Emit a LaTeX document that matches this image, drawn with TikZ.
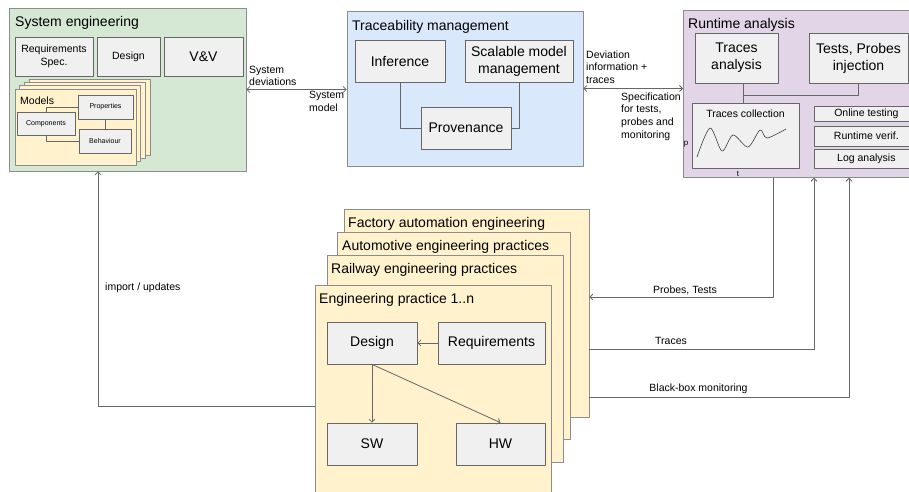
\documentclass[tikz,border=0pt]{standalone}
\usepackage{fontspec}
\setmainfont{Liberation Sans}
\usetikzlibrary{arrows.meta}
\definecolor{sysgreen}{HTML}{D5E8D4}
\definecolor{traceblue}{HTML}{DAE8FC}
\definecolor{runpurple}{HTML}{E1D5E7}
\definecolor{practyellow}{HTML}{FFF2CC}
\definecolor{boxgrey}{HTML}{F0F0F0}
\definecolor{edgegrey}{HTML}{666666}
\definecolor{framegrey}{HTML}{8C8C8C}
\newcommand\bigtxt{\fontsize{14}{16.8}\selectfont}
\newcommand\midtxt{\fontsize{10.5}{12.6}\selectfont}
\newcommand\tinytxt{\fontsize{7}{8.4}\selectfont}
\begin{document}
\begin{tikzpicture}[x=1pt, y=-1pt, font=\midtxt, line join=round, >={Straight Barb[length=3pt,width=6pt]},
 frame/.style={draw=framegrey, line width=0.7pt, inner sep=0pt},
 part/.style={frame, draw=edgegrey, fill=boxgrey, align=center},
 title/.style={anchor=west, inner sep=0pt, yshift=-2pt, font=\bigtxt},
 link/.style={draw=edgegrey, line width=0.8pt},
 lbl/.style={inner sep=0pt, align=left}]
 \path[use as bounding box, fill=white] (0,0) rectangle (909,491);

 \node[frame, fill=sysgreen, minimum width=237pt, minimum height=163pt] (syseng) at (127.5,89.5) {};
 \node[title] (sysTitle) at (15,21) {System engineering};
 \node[part, minimum width=78pt, minimum height=39pt] (sysReq) at (54,56.5) {Requirements\\Spec.};
 \node[part, minimum width=63pt, minimum height=39pt] (sysDesign) at (128.5,56.5) {Design};
 \node[part, font=\bigtxt, minimum width=79pt, minimum height=39pt] (vv) at (203.5,56.5) {V\&V};
 \foreach \i in {3,2,1}
 \node[frame, fill=practyellow, minimum width=121pt, minimum height=76pt] (layer\i) at ({75.5+4.7*\i},{127-3.3*\i}) {};
 \node[frame, fill=practyellow, minimum width=121pt, minimum height=76pt] (models) at (75.5,127) {};
 \node[title, font=\midtxt] (modelsTitle) at (20,99) {Models};
 \node[part, font=\tinytxt, minimum width=55pt, minimum height=24pt] (props) at (105.5,107) {Properties};
 \node[part, font=\tinytxt, minimum width=58pt, minimum height=23pt] (comps) at (46,123.5) {Components};
 \node[part, font=\tinytxt, minimum width=52pt, minimum height=24pt] (behav) at (105,141) {Behaviour};
 \draw[link] (comps.north) |- (props.west);
 \draw[link] (comps.south) |- (behav.west);
 \draw[link] (props.south) -- (props.south |- behav.north);

 \node[frame, fill=traceblue, minimum width=236pt, minimum height=155pt] (trace) at (465,88.5) {};
 \node[title] (traceTitle) at (352,25) {Traceability management};
 \node[part, font=\bigtxt, minimum width=90pt, minimum height=42pt] (infer) at (400,61) {Inference};
 \node[part, font=\bigtxt, minimum width=108pt, minimum height=42pt] (scalable) at (519,61) {Scalable model\\management};
 \node[part, font=\bigtxt, minimum width=90pt, minimum height=42pt] (prov) at (466,128) {Provenance};
 \draw[link] (infer.south) |- (prov.west);
 \draw[link] (scalable.south) |- (prov.east);

 \node[frame, fill=runpurple, minimum width=232pt, minimum height=167pt, anchor=north west] (runtime) at (683,10) {};
 \node[title] (runTitle) at (688,23) {Runtime analysis};
 \node[part, font=\bigtxt, minimum width=83pt, minimum height=50pt] (trAnalysis) at (736.5,58) {Traces\\analysis};
 \node[part, font=\bigtxt, minimum width=99pt, minimum height=50pt] (probesInj) at (858.5,58) {Tests, Probes\\injection};
 \node[part, minimum width=107pt, minimum height=65pt] (trCollect) at (745.5,135.5) {};
 \node[inner sep=0pt] (trCollectTitle) at (745.5,114) {Traces collection};
 \draw[edgegrey!60!black, line width=0.6pt] plot[smooth] coordinates {(697,157) (710,128) (722,151) (733,135) (748,147) (760,130) (767,138) (786,129)};
 \node[inner sep=0pt, font=\footnotesize] (pLabel) at (686,144) {p};
 \node[inner sep=0pt, font=\footnotesize] (tLabel) at (738,173.5) {t};
 \foreach \y/\h/\name/\txt in {113.5/15/online/Online testing, 136/20/rverif/Runtime verif., 158.5/19/logan/Log analysis}
 \node[part, minimum width=104pt, minimum height=\h pt, anchor=west] (\name) at (814,\y) {\txt};
 \coordinate (hub) at (743,95);
 \draw[link] (trAnalysis.south -| hub) -- (trCollect.north -| hub);
 \draw[link] (hub) -| (probesInj.south);

 \draw[link, <->] (syseng.east) -- (trace.west |- syseng.east);
 \node[lbl, anchor=west] (devLabel) at (249,76) {System\\deviations};
 \node[lbl, anchor=west] (modelLabel) at (309,101.5) {System\\model};
 \draw[link, <->] (trace.east) -- (runtime.west |- trace.east);
 \node[lbl, anchor=west] (infoLabel) at (586,67) {Deviation\\information +\\traces};
 \node[lbl, anchor=west] (specLabel) at (621,116.5) {Specification\\for tests,\\probes and\\monitoring};

 \foreach \name/\cx/\cy/\w/\h in {factory/466.5/313/245/208, automotive/453.5/335.5/233/207, railway/445/358.5/236/207}
 \node[frame, fill=practyellow, minimum width=\w pt, minimum height=\h pt] (\name) at (\cx,\cy) {};
 \node[frame, fill=practyellow, minimum width=236pt, minimum height=220pt, anchor=north west] (practice) at (315,285) {};
 \node[title] (factoryTitle) at (348,222) {Factory automation engineering};
 \node[title] (autoTitle) at (342,245) {Automotive engineering practices};
 \node[title] (railTitle) at (331,268) {Railway engineering practices};
 \node[title] (practiceTitle) at (319,297.5) {Engineering practice 1..n};
 \node[part, font=\bigtxt, minimum width=90pt, minimum height=42pt] (practDesign) at (372,343) {Design};
 \node[part, font=\bigtxt, minimum width=107pt, minimum height=42pt] (practReq) at (491.5,343) {Requirements};
 \node[part, font=\bigtxt, minimum width=90pt, minimum height=42pt] (sw) at (372,444) {SW};
 \node[part, font=\bigtxt, minimum width=89pt, minimum height=42pt] (hw) at (500.5,444) {HW};
 \draw[link, ->] (practReq.west) -- (practDesign.east);
 \draw[link, ->] (practDesign.south) -- (sw.north);
 \draw[link, ->] (practDesign.south) -- (hw.north);

 \coordinate (probesBend) at (773,297);
 \coordinate (tracesBend) at (814,349);
 \coordinate (blackBend) at (849,397);
 \coordinate (importBend) at (98,406);
 \draw[link, ->] (runtime.south -| probesBend) -- (probesBend) -- (factory.east |- probesBend);
 \draw[link, ->] (factory.east |- tracesBend) -- (tracesBend) -- (runtime.south -| tracesBend);
 \draw[link, ->] (factory.east |- blackBend) -- (blackBend) -- (runtime.south -| blackBend);
 \draw[link, ->] (practice.west |- importBend) -- (importBend) -- (syseng.south -| importBend);
 \node[lbl] (probesLabel) at (685,290) {Probes, Tests};
 \node[lbl] (tracesLabel) at (671,341) {Traces};
 \node[lbl] (blackLabel) at (698.5,389) {Black-box monitoring};
 \node[lbl, anchor=west] (importLabel) at (105,288) {import / updates};
\end{tikzpicture}
\end{document}
